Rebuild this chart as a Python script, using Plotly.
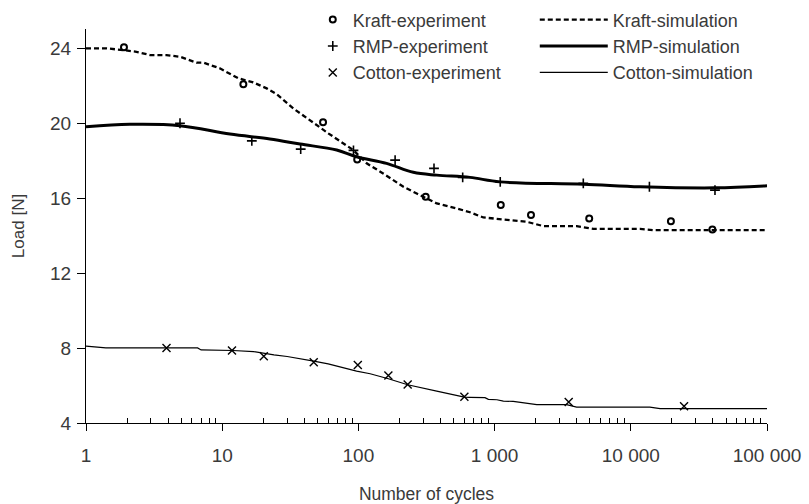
import plotly.graph_objects as go

# ---------------- data ----------------
kraft_exp_x = [1.9, 14.3, 55, 98, 312, 1110, 1850, 4950, 19700, 39700]
kraft_exp_y = [24.05, 22.08, 20.05, 18.07, 16.07, 15.63, 15.10, 14.92, 14.77, 14.33]

rmp_exp_x = [4.9, 16.5, 37.7, 92, 186, 359, 583, 1100, 4480, 13700, 41500]
rmp_exp_y = [20.0, 19.06, 18.62, 18.55, 18.03, 17.59, 17.11, 16.87, 16.79, 16.61, 16.43]

cotton_exp_x = [3.9, 11.8, 20.2, 47, 99, 166, 230, 600, 3500, 24600]
cotton_exp_y = [8.0, 7.87, 7.56, 7.24, 7.09, 6.54, 6.06, 5.40, 5.12, 4.90]

kraft_sim_x = [1, 1.4, 1.9, 2.3, 2.95, 3.9, 4.9, 6.5, 7.3, 9.6, 13.1, 16.9, 21.2, 25.1,
               33.3, 45.4, 60.1, 91.8, 115, 152, 214, 268, 376, 527, 659, 826, 978,
               1720, 2280, 4010, 5310, 11700, 14600, 100000]
kraft_sim_y = [24.0, 24.0, 23.9, 23.82, 23.64, 23.64, 23.55, 23.23, 23.23, 22.93, 22.4,
               22.18, 21.86, 21.55, 20.79, 20.08, 19.46, 18.57, 17.86, 17.32, 16.61,
               16.25, 15.72, 15.45, 15.25, 14.97, 14.92, 14.74, 14.51, 14.51, 14.36,
               14.36, 14.29, 14.29]

rmp_sim_x = [1, 2.1, 4.9, 11.4, 22.4, 37.3, 69.3, 97, 161, 253, 376, 659, 1100, 4480,
             11700, 41500, 100000]
rmp_sim_y = [19.81, 19.94, 19.87, 19.42, 19.16, 18.89, 18.57, 18.21, 17.86, 17.38,
             17.23, 17.11, 16.87, 16.75, 16.61, 16.55, 16.66]

cotton_sim_x = [1, 1.4, 6.6, 7, 12, 17, 24, 30, 47, 60, 97, 122, 166, 230, 376, 600,
                660, 850, 900, 1040, 1160, 1370, 2040, 3380, 4000, 13800, 16400, 100000]
cotton_sim_y = [8.10, 8.01, 8.01, 7.90, 7.87, 7.81, 7.64, 7.55, 7.30, 7.16, 6.77, 6.63,
                6.36, 6.04, 5.70, 5.38, 5.37, 5.35, 5.26, 5.24, 5.17, 5.15, 4.98, 4.98,
                4.85, 4.85, 4.77, 4.77]

x_tickvals = [1, 10, 100, 1000, 10000, 100000]
x_ticktext = ["1", "10", "100", "1 000", "10 000", "100 000"]
y_tickvals = [4, 8, 12, 16, 20, 24]

# ---------------- figure ----------------
FONT = "Liberation Sans"
TXT = "#3a3a3a"

fig = go.Figure()

fig.add_trace(go.Scatter(x=kraft_sim_x, y=kraft_sim_y, mode="lines",
                         name="Kraft-simulation", legend="legend2",
                         line=dict(color="black", width=2.3, dash="5px,3px")))
fig.add_trace(go.Scatter(x=rmp_sim_x, y=rmp_sim_y, mode="lines",
                         name="RMP-simulation", legend="legend2",
                         line=dict(color="black", width=3, shape="spline")))
fig.add_trace(go.Scatter(x=cotton_sim_x, y=cotton_sim_y, mode="lines",
                         name="Cotton-simulation", legend="legend2",
                         line=dict(color="black", width=1.2)))

fig.add_trace(go.Scatter(x=kraft_exp_x, y=kraft_exp_y, mode="markers",
                         name="Kraft-experiment", legend="legend",
                         marker=dict(symbol="circle-open", size=6, color="black",
                                     line=dict(width=2, color="black"))))
fig.add_trace(go.Scatter(x=rmp_exp_x, y=rmp_exp_y, mode="markers",
                         name="RMP-experiment", legend="legend",
                         marker=dict(symbol="cross-thin-open", size=7, color="black",
                                     line=dict(width=1.6, color="black"))))
fig.add_trace(go.Scatter(x=cotton_exp_x, y=cotton_exp_y, mode="markers",
                         name="Cotton-experiment", legend="legend",
                         marker=dict(symbol="x-thin-open", size=8, color="black",
                                     line=dict(width=1.4, color="black"))))

minor_vals = [m * 10 ** k for k in range(5) for m in range(2, 10)]

fig.update_layout(
    width=809, height=504,
    margin=dict(l=86, r=42, t=29, b=81, autoexpand=False),
    paper_bgcolor="white", plot_bgcolor="white",
    font=dict(family=FONT, size=19, color=TXT),
    xaxis=dict(type="log", range=[0, 5], tickmode="array",
               tickvals=x_tickvals, ticktext=x_ticktext, automargin=False,
               showline=True, linecolor="black", linewidth=1.3,
               ticks="outside", ticklen=7, tickwidth=1.3, tickcolor="black",
               ticklabelstandoff=8,
               minor=dict(tickmode="array", tickvals=minor_vals, ticks="inside",
                          ticklen=5, tickwidth=1, tickcolor="black", showgrid=False),
               showgrid=False, zeroline=False,
               title=dict(text="Number of cycles", font=dict(size=17.5), standoff=23)),
    xaxis2=dict(type="log", range=[0, 5], overlaying="x", anchor="y", side="bottom",
                tickmode="array", tickvals=x_tickvals, showticklabels=False,
                ticks="inside", ticklen=5, tickwidth=1.3, tickcolor="black",
                showgrid=False, zeroline=False, showline=False, automargin=False),
    yaxis=dict(range=[4, 25.03], tickmode="array", tickvals=y_tickvals,
               showline=True, linecolor="black", linewidth=1.3, automargin=False,
               ticks="outside", ticklen=8, tickwidth=1.3, tickcolor="black",
               ticklabelstandoff=2,
               showgrid=False, zeroline=False,
               title=dict(text="Load [N]", font=dict(size=17), standoff=20)),
    legend=dict(x=0.333, y=1.07, xanchor="left", yanchor="top",
                bgcolor="rgba(0,0,0,0)", font=dict(size=18, color=TXT),
                itemwidth=30, tracegroupgap=0),
    legend2=dict(x=0.659, y=1.07, xanchor="left", yanchor="top",
                 bgcolor="rgba(0,0,0,0)", font=dict(size=18, color=TXT),
                 itemwidth=68, tracegroupgap=0),
    showlegend=True,
)

fig.write_html("out.html", config={"displayModeBar": False},
               post_script="document.body.style.margin='0';document.body.style.overflow='hidden';")
